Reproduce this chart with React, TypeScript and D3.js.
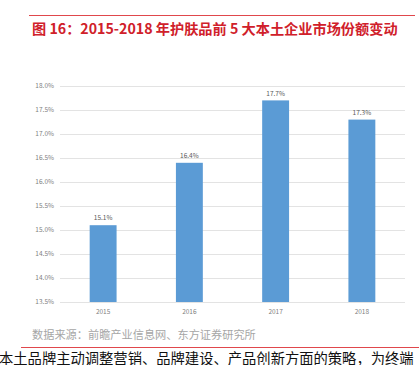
import React from "react";
import * as d3 from "d3";

const years = ["2015", "2016", "2017", "2018"];
const shares = [15.1, 16.4, 17.7, 17.3];
const yTicks = [13.5, 14.0, 14.5, 15.0, 15.5, 16.0, 16.5, 17.0, 17.5, 18.0];
const title = "图 16：2015-2018 年护肤品前 5 大本土企业市场份额变动";
const source = "数据来源：前瞻产业信息网、东方证券研究所";
const bodyText = "本土品牌主动调整营销、品牌建设、产品创新方面的策略，为终端";

export default function App() {
  const W = 419, H = 365;
  const x = d3.scaleBand<string>().domain(years).range([60, 405]).paddingInner(0.688).paddingOuter(0.344);
  const y = d3.scaleLinear().domain([13.5, 18.0]).range([302, 86]);
  const font = "'Noto Sans CJK SC', 'Noto Sans', sans-serif";
  return (
    <svg width={W} height={H} style={{ position: "fixed", left: 0, top: 0, background: "#fff" }}>
      <rect x={0} y={0} width={W} height={H} fill="#fff" />
      <line x1={29} x2={415} y1={15.5} y2={15.5} stroke="#e0474c" strokeWidth={1} />
      <text x={32} y={34} fontFamily={font} fontSize={14.2} fontWeight="bold" fill="#d0202a">{title}</text>
      {yTicks.map((t) => (
        <g key={t}>
          <line x1={60} x2={405} y1={Math.round(y(t)) + 0.5} y2={Math.round(y(t)) + 0.5} stroke="#e3e3e3" strokeWidth={1} />
          <text x={54} y={y(t)} dy="0.35em" textAnchor="end" fontFamily={font} fontSize={6.5} fill="#7f7f7f">{t.toFixed(1)}%</text>
        </g>
      ))}
      {years.map((yr, i) => (
        <g key={yr}>
          <rect x={x(yr)!} y={y(shares[i])} width={x.bandwidth()} height={y(13.5) - y(shares[i])} fill="#5b9bd5" />
          <text x={x(yr)! + x.bandwidth() / 2} y={y(shares[i]) - 7} dy="0.35em" textAnchor="middle" fontFamily={font} fontSize={6.5} fill="#595959">{shares[i].toFixed(1)}%</text>
          <text x={x(yr)! + x.bandwidth() / 2} y={312} dy="0.35em" textAnchor="middle" fontFamily={font} fontSize={6.5} fill="#7f7f7f">{yr}</text>
        </g>
      ))}
      <text x={32} y={339} fontFamily={font} fontSize={11.2} fill="#a6a6a6">{source}</text>
      <line x1={21} x2={419} y1={347.5} y2={347.5} stroke="#e0474c" strokeWidth={1} />
      <text x={-1} y={364} fontFamily={font} fontSize={14.3} fill="#111">{bodyText}</text>
    </svg>
  );
}
